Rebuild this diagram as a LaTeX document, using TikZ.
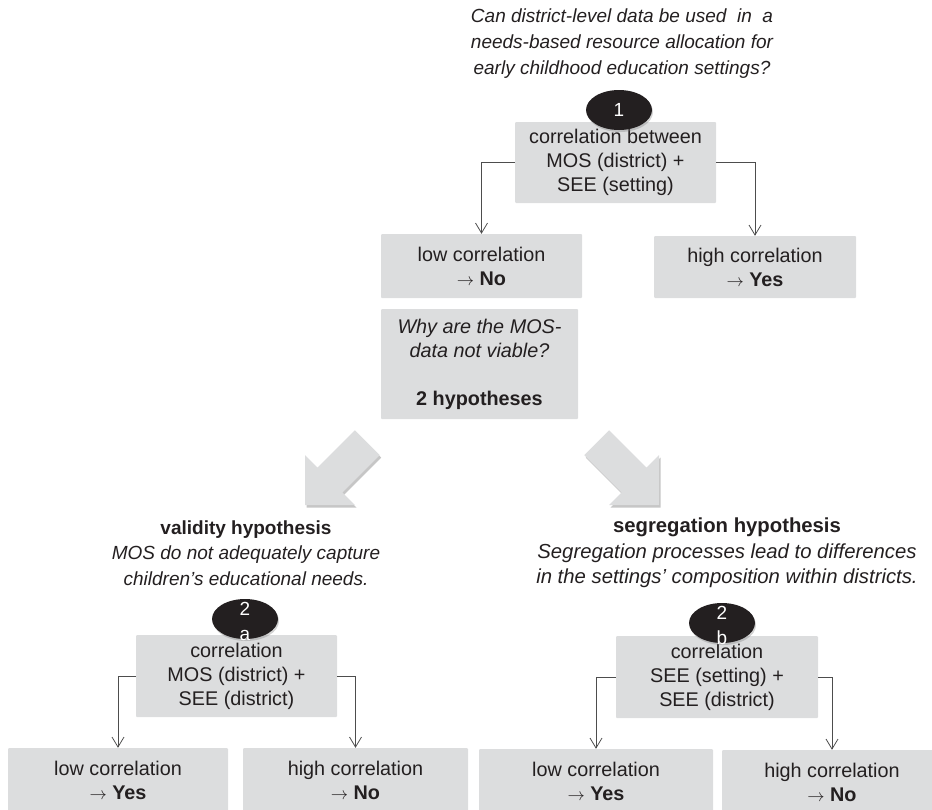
\documentclass[tikz,border=0pt]{standalone}
\usepackage{fontspec}
\setmainfont{Liberation Sans}
\newcommand{\rarr}{{\fontsize{16}{24}\selectfont$\rightarrow$}}
\usetikzlibrary{shapes.geometric,arrows.meta,shadows}
\definecolor{boxgray}{HTML}{DCDDDE}
\definecolor{ink}{HTML}{231F20}
\definecolor{linegray}{HTML}{4D4D4D}
\tikzset{
  box/.style={rectangle, fill=boxgray, inner sep=0pt, align=center, text=ink,
    font=\fontsize{19.8}{24}\selectfont, rounded corners=1pt},
  badge/.style={ellipse, fill=ink, minimum width=66pt, minimum height=40pt, inner sep=0pt,
    drop shadow={opacity=0.35, shadow xshift=1pt, shadow yshift=-2pt}},
  badgetext/.style={text=white, align=center, font=\fontsize{19}{25}\selectfont, inner sep=0pt},
  conn/.style={draw=linegray, line width=0.8pt, -{Straight Barb[length=10pt,width=12pt]}},
  plaintext/.style={align=center, text=ink, font=\fontsize{19}{25.5}\selectfont, inner sep=0pt},
  bigarrow/.style={fill=boxgray, drop shadow={opacity=0.45, shadow xshift=1.5pt, shadow yshift=-2.5pt}},
}
\begin{document}
\begin{tikzpicture}[x=1pt,y=-1pt]
\useasboundingbox (0,0) rectangle (932,809);
\clip (0,0) rectangle (932,809);

% top question
\node[plaintext, font=\itshape\fontsize{19}{26}\selectfont] (q) at (622,44)
  {Can district-level data be used \ in \ a\\needs-based resource allocation for\\early childhood education settings?};

% step 1
\node[box, minimum width=201pt, minimum height=81pt] (b1) at (615.5,162.5)
  {correlation between\\MOS (district) +\\SEE (setting)};
\node[badge] (e1) at (619,110) {};
\node[badgetext] (t1) at (e1.center) {1};

\node[box, minimum width=201pt, minimum height=64pt] (lo1) at (481.5,266)
  {low correlation\\\rarr\ \textbf{No}};
\node[box, minimum width=202pt, minimum height=62pt] (hi1) at (755,267)
  {high correlation\\\rarr\ \textbf{Yes}};
\draw[conn] (b1.west) -| (lo1.north);
\draw[conn] (b1.east) -| (hi1.north);

% middle box
\node[box, minimum width=197pt, minimum height=110pt] (mid) at (479.5,364)
  {\textit{Why are the MOS-}\\\textit{data not viable?}\\[24pt]\textbf{2 hypotheses}};

% big arrows
\fill[bigarrow] (305,505) -- (305,455) -- (317.6,467.6) -- (354.9,430.3)
  -- (379.7,455.1) -- (342.4,492.4) -- (355,505) -- cycle;
\fill[bigarrow] (659,505) -- (659,455) -- (646.4,467.6) -- (609.1,430.3)
  -- (584.3,455.1) -- (621.6,492.4) -- (609,505) -- cycle;

% hypotheses
\node[plaintext] (hv) at (246,553)
  {\textbf{validity hypothesis}\\\textit{MOS do not adequately capture}\\\textit{children’s educational needs.}};
\node[plaintext, font=\fontsize{20.3}{25.5}\selectfont] (hs) at (727,553)
  {\textbf{segregation hypothesis}\\\textit{Segregation processes lead to differences}\\\textit{in the settings’ composition within districts.}};

% step 2a
\node[box, minimum width=201pt, minimum height=82pt] (b2a) at (236.5,676)
  {correlation\\MOS (district) +\\SEE (district)};
\node[badge] (e2a) at (245,619) {};
\node[badgetext] (t2a) at (245,621) {2\\a};

% step 2b
\node[box, minimum width=202pt, minimum height=82pt] (b2b) at (717,677)
  {correlation\\SEE (setting) +\\SEE (district)};
\node[badge] (e2b) at (722,623) {};
\node[badgetext] (t2b) at (722,625) {2\\b};

% bottom boxes
\node[box, minimum width=220pt, minimum height=64pt] (l2a) at (118,780)
  {low correlation\\\rarr\ \textbf{Yes}};
\node[box, minimum width=225pt, minimum height=64pt] (h2a) at (355.5,780)
  {high correlation\\\rarr\ \textbf{No}};
\node[box, minimum width=234pt, minimum height=64pt] (l2b) at (596,781)
  {low correlation\\\rarr\ \textbf{Yes}};
\node[box, minimum width=220pt, minimum height=64pt] (h2b) at (832,782)
  {high correlation\\\rarr\ \textbf{No}};

\draw[conn] (b2a.west) -| (l2a.north);
\draw[conn] (b2a.east) -| (h2a.north);
\draw[conn] (b2b.west) -| (l2b.north);
\draw[conn] (b2b.east) -| (h2b.north);
\end{tikzpicture}
\end{document}
